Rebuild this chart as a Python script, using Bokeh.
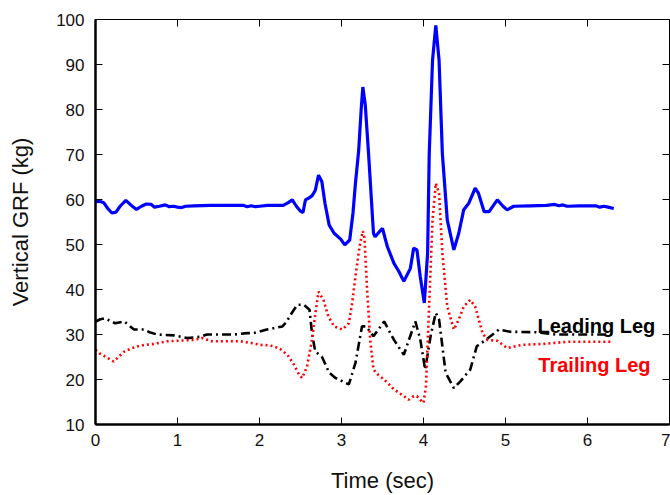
from bokeh.plotting import figure
from bokeh.models import LinearAxis, Range1d, FixedTicker
from bokeh.embed import file_html
from bokeh.resources import INLINE
from bokeh.core.properties import value

# ---- data ----
total_t = [0.00, 0.05, 0.10, 0.15, 0.20, 0.25, 0.30, 0.37, 0.43, 0.50, 0.56, 0.62, 0.68, 0.72, 0.78,
           0.85, 0.90, 0.95, 1.00, 1.05, 1.10, 1.20, 1.40, 1.60, 1.80, 1.85, 1.90, 1.95, 2.00, 2.10,
           2.29, 2.35, 2.40, 2.45, 2.50, 2.53, 2.56, 2.60, 2.64, 2.68, 2.72, 2.76, 2.80, 2.85, 2.91,
           2.99, 3.04, 3.10, 3.14, 3.17, 3.21, 3.24, 3.26, 3.29, 3.33, 3.39, 3.41, 3.46, 3.50, 3.53,
           3.56, 3.64, 3.70, 3.76, 3.84, 3.88, 3.92, 3.96, 4.01, 4.05, 4.07, 4.11, 4.15, 4.19, 4.23,
           4.29, 4.37, 4.43, 4.49, 4.55, 4.63, 4.67, 4.74, 4.80, 4.90, 4.97, 5.02, 5.10, 5.30, 5.50,
           5.60, 5.65, 5.70, 5.75, 5.90, 6.10, 6.15, 6.20, 6.25, 6.32]
total_grf = [59.5, 59.6, 59.3, 58.0, 57.0, 57.2, 58.5, 59.8, 58.8, 57.8, 58.5, 59.0, 58.9, 58.3, 58.5,
             58.8, 58.4, 58.5, 58.3, 58.2, 58.5, 58.6, 58.7, 58.7, 58.7, 58.4, 58.6, 58.4, 58.5, 58.7,
             58.7, 59.3, 59.9, 58.5, 57.4, 57.1, 59.9, 60.3, 60.8, 62.0, 65.4, 64.0, 59.0, 54.3, 52.5,
             51.2, 49.9, 51.0, 57.0, 63.6, 71.0, 80.0, 85.0, 81.0, 70.2, 52.5, 51.7, 52.8, 53.6, 51.5,
             49.5, 45.8, 44.0, 41.8, 44.7, 49.2, 48.8, 42.9, 37.0, 48.1, 70.2, 90.9, 98.7, 90.9, 70.2,
             55.4, 48.8, 52.5, 57.7, 59.1, 62.5, 61.4, 57.3, 57.3, 59.9, 58.5, 57.7, 58.5, 58.6, 58.7,
             58.9, 58.6, 58.8, 58.5, 58.6, 58.6, 58.3, 58.5, 58.3, 58.0]

trail_t = [0.00, 0.05, 0.12, 0.22, 0.28, 0.35, 0.45, 0.52, 0.60, 0.71, 0.87, 1.00, 1.20, 1.30, 1.42,
           1.60, 1.77, 1.90, 2.01, 2.10, 2.17, 2.25, 2.34, 2.42, 2.48, 2.52, 2.58, 2.64, 2.68, 2.72,
           2.78, 2.84, 2.91, 3.01, 3.09, 3.13, 3.17, 3.22, 3.26, 3.28, 3.31, 3.35, 3.39, 3.45, 3.52,
           3.64, 3.76, 3.82, 3.88, 3.92, 3.96, 4.00, 4.03, 4.07, 4.11, 4.15, 4.19, 4.23, 4.29, 4.37,
           4.43, 4.49, 4.57, 4.63, 4.72, 4.78, 4.90, 5.02, 5.20, 5.45, 5.77, 6.30]
trail_grf = [26.6, 25.8, 25.1, 24.0, 25.0, 26.2, 27.0, 27.4, 27.7, 27.9, 28.5, 28.6, 28.8, 29.2, 28.5,
             28.5, 28.5, 28.1, 27.7, 27.6, 27.4, 26.8, 25.5, 23.3, 21.2, 20.3, 22.9, 28.8, 34.5, 39.5,
             37.7, 34.0, 31.8, 31.1, 32.5, 37.0, 42.9, 49.5, 53.0, 51.5, 40.7, 28.8, 22.2, 21.0, 20.0,
             17.8, 16.3, 15.5, 16.3, 16.3, 15.5, 14.8, 18.5, 37.0, 55.4, 63.6, 61.4, 48.1, 36.2, 31.1,
             33.3, 36.2, 37.7, 36.2, 30.3, 28.8, 28.6, 27.0, 27.7, 27.9, 28.4, 28.4]

lead_t = [0.00, 0.06, 0.12, 0.18, 0.24, 0.35, 0.41, 0.47, 0.59, 0.66, 0.75, 0.96, 1.12, 1.28, 1.36,
          1.69, 1.85, 1.93, 2.09, 2.28, 2.33, 2.38, 2.46, 2.54, 2.61, 2.64, 2.68, 2.76, 2.85, 2.93,
          3.09, 3.17, 3.25, 3.30, 3.39, 3.52, 3.64, 3.76, 3.90, 3.96, 4.02, 4.09, 4.15, 4.19, 4.27,
          4.37, 4.45, 4.57, 4.65, 4.76, 4.92, 5.06, 5.37, 5.61, 6.30]
lead_grf = [32.9, 33.4, 33.6, 33.0, 32.5, 32.9, 32.0, 31.1, 31.1, 30.5, 30.0, 29.8, 29.2, 29.5, 30.0,
            30.0, 30.3, 30.3, 31.1, 31.8, 32.8, 34.4, 36.6, 36.6, 35.5, 30.3, 26.2, 25.1, 21.5, 20.3,
            18.9, 23.7, 31.8, 31.8, 29.6, 32.9, 28.8, 25.5, 32.9, 29.0, 22.2, 30.0, 34.8, 33.3, 21.5,
            18.1, 19.6, 22.2, 27.4, 28.8, 31.1, 30.6, 30.5, 30.0, 30.0]

x_ticks = [0, 1, 2, 3, 4, 5, 6, 7]
y_ticks = [10, 20, 30, 40, 50, 60, 70, 80, 90, 100]
labels = ["Leading Leg", "Trailing Leg"]

FONT = "Liberation Sans"

p = figure(width=670, height=495, output_backend="svg", toolbar_location=None,
           x_range=Range1d(0, 7), y_range=Range1d(10, 100),
           min_border_left=95, min_border_top=19, min_border_bottom=70, min_border_right=1)
p.background_fill_color = "white"
p.border_fill_color = "white"
p.outline_line_color = "black"
p.outline_line_width = 1
p.xgrid.visible = False
p.ygrid.visible = False

for ax, ticks in ((p.xaxis[0], x_ticks), (p.yaxis[0], y_ticks)):
    ax.ticker = FixedTicker(ticks=ticks)
    ax.axis_line_width = 2.5
    ax.axis_line_color = "black"
    ax.major_tick_in = 7
    ax.major_tick_out = 0
    ax.major_tick_line_width = 1
    ax.minor_tick_line_color = None
    ax.major_label_text_font = FONT
    ax.major_label_text_font_size = "17px"
    ax.major_label_text_color = "#111111"
    ax.major_label_standoff = 9
    ax.axis_label_text_font = FONT
    ax.axis_label_text_font_size = "22px"
    ax.axis_label_text_font_style = "normal"
    ax.axis_label_text_color = "#111111"

p.xaxis[0].axis_label = "Time (sec)"
p.xaxis[0].axis_label_standoff = 19
p.yaxis[0].axis_label = "Vertical GRF (kg)"
p.yaxis[0].axis_label_standoff = 20
p.yaxis[0].major_label_standoff = 11

# mirror ticks on top and right (no labels)
for loc, ticks in (("above", x_ticks), ("right", y_ticks)):
    ax = LinearAxis(ticker=FixedTicker(ticks=ticks))
    ax.axis_line_color = None
    ax.major_tick_in = 7
    ax.major_tick_out = 0
    ax.minor_tick_line_color = None
    ax.major_label_text_color = None
    ax.major_label_text_font_size = "1px"
    ax.major_label_standoff = 0
    p.add_layout(ax, loc)

p.line(total_t, total_grf, line_color="#0000ff", line_width=3.2)
p.line(lead_t, lead_grf, line_color="black", line_width=2.6, line_dash="9 4 2 4")
p.line(trail_t, trail_grf, line_color="#ff0000", line_width=2.6, line_dash="2 3")

p.text(x=[5.39, 5.40], y=[31.8, 23.3], text=labels, text_color=["black", "#ff0000"],
       text_font=value(FONT), text_font_size="20px", text_font_style="bold",
       text_align="left", text_baseline="alphabetic")

open("out.html", "w").write(file_html(p, INLINE))
